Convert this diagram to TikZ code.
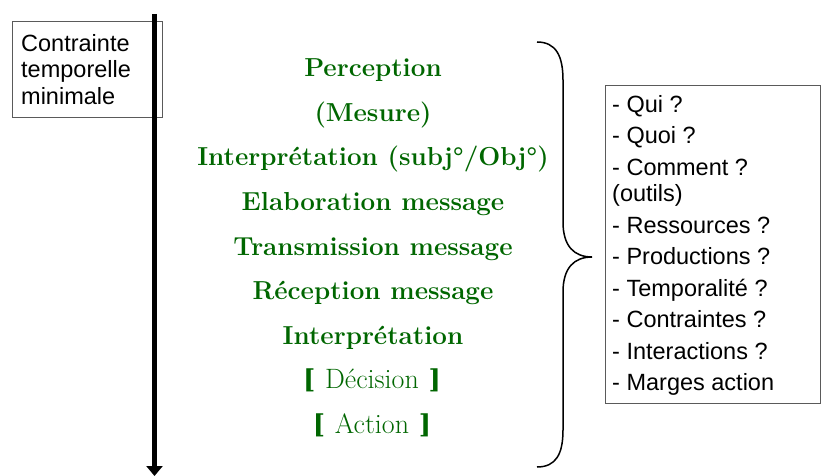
\documentclass[tikz,border=0pt]{standalone}
\usepackage{fontspec}
\newfontfamily\arialf{Liberation Sans}
\newfontfamily\brkf{DejaVu Serif}
\usetikzlibrary{arrows.meta}
\definecolor{dgreen}{RGB}{0,102,0}
\definecolor{framegray}{RGB}{90,90,90}
\newcommand{\bopen}{{\brkf\bfseries\fontsize{26}{30}\selectfont[}}
\newcommand{\bclose}{{\brkf\bfseries\fontsize{26}{30}\selectfont]}}
\newcommand{\mdword}[1]{{\mdseries\fontsize{28}{30}\selectfont #1}}
\begin{document}
\begin{tikzpicture}[x=1pt,y=-1pt,
  lbl/.style={font=\arialf\fontsize{23.5}{26.7}\selectfont, inner sep=0pt, align=left, anchor=north west},
  rlbl/.style={font=\arialf\fontsize{23.5}{26.5}\selectfont, inner sep=0pt, align=left, anchor=north west},
  gline/.style={font=\fontsize{26}{30}\selectfont\bfseries, text=dgreen, inner sep=0pt, anchor=base},
  frame/.style={draw=framegray, line width=0.8pt, inner sep=0pt, anchor=north west}
]
\useasboundingbox (0,0) rectangle (822,476);
% left box
\node[frame, minimum width=150pt, minimum height=96pt] (lbox) at (12,21) {};
\node[lbl] (ltext) at (21,34) {Contrainte\\temporelle\\minimale};
% time arrow
\coordinate (atop) at (154.5,14);
\coordinate (abot) at (154.5,476);
\draw[line width=5pt, -{Triangle[width=16pt,length=10pt]}] (atop) -- (abot);
% green steps
\node[gline] (g1) at (373,77) {Perception};
\node[gline] (g2) at (373,121.5) {(Mesure)};
\node[gline] (g3) at (373,166) {Interprétation (subj°/Obj°)};
\node[gline] (g4) at (373,210.5) {Elaboration message};
\node[gline] (g5) at (373,255) {Transmission message};
\node[gline] (g6) at (373,299.5) {Réception message};
\node[gline] (g7) at (373,344) {Interprétation};
\node[gline] (g8) at (372,388.5) {\bopen{} \mdword{Décision} \bclose};
\node[gline] (g9) at (372,433) {\bopen{} \mdword{Action} \bclose};
% brace
\coordinate (btop) at (537,42);
\coordinate (btip) at (592,257);
\coordinate (bbot) at (537,467);
\draw[line width=1.5pt]
  (btop) .. controls (556,42) and (563,56) .. (563,80)
  -- (563,222) .. controls (563,246) and (574,257) .. (btip)
  .. controls (574,257) and (563,268) .. (563,292)
  -- (563,430) .. controls (563,454) and (556,467) .. (bbot);
% right box
\node[frame, minimum width=215pt, minimum height=318pt] (rbox) at (605,85) {};
\node[rlbl] (rtext) at (612,95) {- Qui ?\\[5pt]- Quoi ?\\[5pt]- Comment ?\\(outils)\\[5pt]- Ressources ?\\[5pt]- Productions ?\\[5pt]- Temporalité ?\\[5pt]- Contraintes ?\\[5pt]- Interactions ?\\[5pt]- Marges action};
\end{tikzpicture}
\end{document}
